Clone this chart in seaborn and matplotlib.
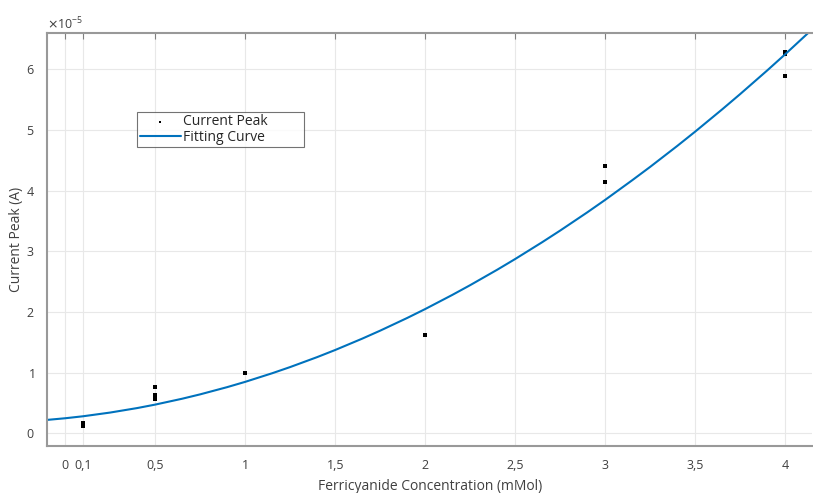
import numpy as np
import pandas as pd
import matplotlib
matplotlib.use("Agg")
import matplotlib.pyplot as plt
import seaborn as sns
from matplotlib.ticker import ScalarFormatter

# measured peaks (x in mMol, y in A)
conc = [0.1, 0.1, 0.5, 0.5, 0.5, 0.5, 1, 2, 3, 3, 4, 4, 4]
peak = [0.17e-5, 0.12e-5, 0.77e-5, 0.64e-5, 0.60e-5, 0.56e-5, 0.99e-5,
        1.63e-5, 4.40e-5, 4.14e-5, 6.29e-5, 6.26e-5, 5.89e-5]

# fitting curve
fit_x = [-0.1, 0, 0.1, 0.25, 0.4, 0.5, 0.65, 0.75, 0.9, 1, 1.15, 1.25, 1.4,
         1.5, 1.65, 1.75, 1.9, 2, 2.15, 2.25, 2.4, 2.5, 2.65, 2.75, 2.9, 3,
         3.15, 3.25, 3.4, 3.5, 3.65, 3.75, 3.9, 4, 4.15]
fit_y = [0.223, 0.25, 0.283, 0.344, 0.418, 0.475, 0.572, 0.644, 0.763, 0.85,
         0.992, 1.094, 1.258, 1.375, 1.562, 1.694, 1.903, 2.05, 2.282, 2.444,
         2.698, 2.875, 3.152, 3.344, 3.643, 3.85, 4.173, 4.394, 4.738, 4.975,
         5.342, 5.594, 5.983, 6.25, 6.662]
fit_y = [v * 1e-5 for v in fit_y]

x_ticks = [0, 0.1, 0.5, 1, 1.5, 2, 2.5, 3, 3.5, 4]
x_labels = ["0", "0,1", "0,5", "1", "1,5", "2", "2,5", "3", "3,5", "4"]
y_ticks = [0, 1e-5, 2e-5, 3e-5, 4e-5, 5e-5, 6e-5]

sns.set_style("whitegrid")
plt.rcParams["font.family"] = ["Open Sans", "DejaVu Sans"]

df = pd.DataFrame({"conc": conc, "peak": peak})
fit = pd.DataFrame({"x": fit_x, "y": fit_y})

fig = plt.figure(figsize=(8.13, 4.93), dpi=100)
ax = fig.add_axes([0.058, 0.095, 0.941, 0.838])

sns.scatterplot(data=df, x="conc", y="peak", ax=ax, color="black", s=5,
                marker="s", linewidth=0, label="Current Peak")
sns.lineplot(data=fit, x="x", y="y", ax=ax, color="#0072BD", linewidth=1.5,
             label="Fitting Curve", sort=False)

ax.set_xlim(-0.1, 4.15)
ax.set_ylim(-0.21e-5, 6.6e-5)
ax.set_xticks(x_ticks)
ax.set_xticklabels(x_labels)
ax.set_yticks(y_ticks)

fmt = ScalarFormatter(useMathText=True)
fmt.set_powerlimits((0, 0))
ax.yaxis.set_major_formatter(fmt)
ax.yaxis.get_offset_text().set_fontsize(9)
ax.yaxis.get_offset_text().set_color("#404040")

ax.grid(True, color="#e8e8e8", linewidth=0.8)
for sp in ax.spines.values():
    sp.set_color("#999999")
    sp.set_linewidth(1.5)
ax.spines["right"].set_visible(False)
ax.tick_params(direction="in", length=4, width=0.8, color="#808080",
               labelsize=9, labelcolor="#404040", top=True, right=False,
               pad=9)

ax.set_xlabel("Ferricyanide Concentration (mMol)", fontsize=10,
              color="#404040", labelpad=5)
ax.set_ylabel("Current Peak (A)", fontsize=10, color="#404040", labelpad=1)

leg = ax.legend(loc="upper left", bbox_to_anchor=(0.118, 0.72, 0.218, 0.088),
                mode="expand", fontsize=10, frameon=True, fancybox=False,
                borderpad=0.15, labelspacing=0.05, handlelength=3.0,
                handletextpad=0.15, borderaxespad=0, markerscale=0.6)
leg.get_frame().set_edgecolor("#505050")
leg.get_frame().set_linewidth(0.8)

fig.savefig("out.png", dpi=100)
